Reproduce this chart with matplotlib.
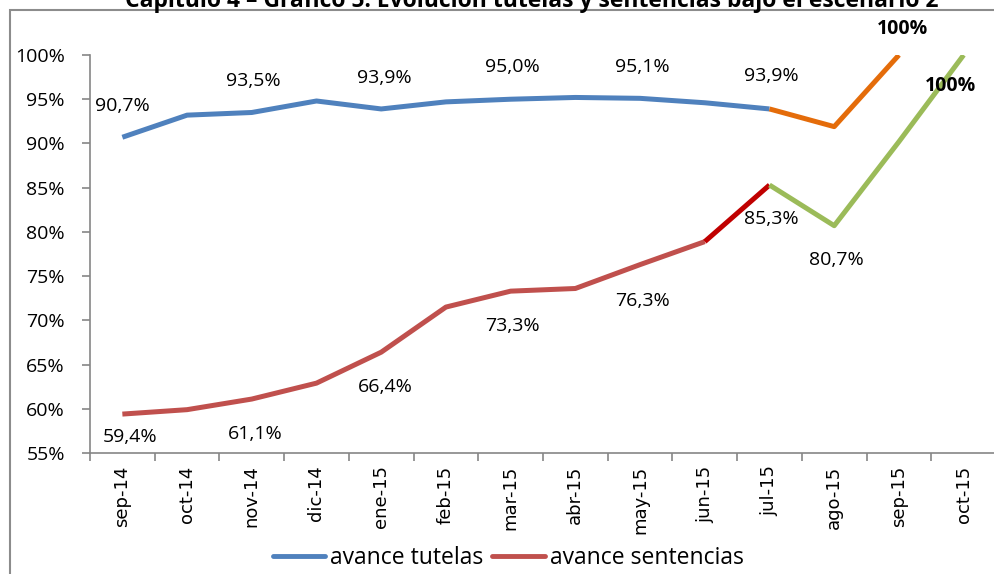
import matplotlib
matplotlib.use("Agg")
import matplotlib.pyplot as plt
from matplotlib.patches import Rectangle
from matplotlib.ticker import FixedLocator, FuncFormatter

# categories
meses = ['sep-14', 'oct-14', 'nov-14', 'dic-14', 'ene-15', 'feb-15', 'mar-15',
         'abr-15', 'may-15', 'jun-15', 'jul-15', 'ago-15', 'sep-15', 'oct-15']

# observed values (sep-14 .. jul-15)
tutelas = [90.7, 93.2, 93.5, 94.8, 93.9, 94.7, 95.0, 95.2, 95.1, 94.6, 93.9]
sentencias = [59.4, 59.9, 61.1, 62.9, 66.4, 71.5, 73.3, 73.6, 76.3, 78.9, 85.3]

# projections (jul-15 onwards)
tutelas_proy = [93.9, 91.9, 100.0]
sentencias_proy = [85.3, 80.7, 90.2, 100.0]

yticks = [55, 60, 65, 70, 75, 80, 85, 90, 95, 100]

c_blue = '#4F81BD'
c_red = '#C0504D'
c_dark = '#C00000'
c_orange = '#E46C0A'
c_green = '#9BBB59'
c_axis = '#868686'
lw = 3.6

fig = plt.figure(figsize=(9.95, 5.74), dpi=100)
ax = fig.add_axes([90 / 995, 121 / 574, 906 / 995, 398 / 574])

x_obs = list(range(len(tutelas)))
x_proy_t = list(range(len(tutelas) - 1, len(tutelas) - 1 + len(tutelas_proy)))
x_proy_s = list(range(len(sentencias) - 1, len(sentencias) - 1 + len(sentencias_proy)))

ax.plot(x_obs, tutelas, color=c_blue, lw=lw, solid_capstyle='butt', label='avance tutelas')
ax.plot(x_obs[:-1], sentencias[:-1], color=c_red, lw=lw, solid_capstyle='butt', label='avance sentencias')
ax.plot(x_obs[-2:], sentencias[-2:], color=c_dark, lw=lw, solid_capstyle='butt')
ax.plot(x_proy_t, tutelas_proy, color=c_orange, lw=lw, solid_capstyle='butt')
ax.plot(x_proy_s, sentencias_proy, color=c_green, lw=lw, solid_capstyle='butt')

# data labels: (x index, value, dx px, dy px)
lab_font = dict(family='Open Sans', fontsize=14)
etiquetas = [
    (0, tutelas[0], 0, 31),
    (2, tutelas[2], 2, 31),
    (4, tutelas[4], 3, 31),
    (6, tutelas[6], 2, 32),
    (8, tutelas[8], 2, 31),
    (10, tutelas[10], 2, 33),
    (0, sentencias[0], 8, -23),
    (2, sentencias[2], 3, -35),
    (4, sentencias[4], 4, -35),
    (6, sentencias[6], 2, -35),
    (8, sentencias[8], 2, -36),
    (10, sentencias[10], 2, -34),
    (11, sentencias_proy[1], 2, -34),
]
for xi, v, dx, dy in etiquetas:
    ax.annotate(f'{v:.1f}%'.replace('.', ','), (xi, v), xytext=(dx * 0.72, dy * 0.72),
                textcoords='offset points', ha='center', va='center', **lab_font)

ax.annotate('100%', (12, tutelas_proy[2]), xytext=(4 * 0.72, 26 * 0.72),
            textcoords='offset points', ha='center', va='center',
            family='Open Sans', fontsize=14, fontweight='bold', annotation_clip=False)
ax.annotate('100%', (13, sentencias_proy[3]), xytext=(-13 * 0.72, -31 * 0.72),
            textcoords='offset points', ha='center', va='center',
            family='Open Sans', fontsize=14, fontweight='bold', annotation_clip=False)

ax.set_xlim(-0.5, len(meses) - 0.5)
ax.set_ylim(55, 100)
ax.yaxis.set_major_locator(FixedLocator(yticks))
ax.yaxis.set_major_formatter(FuncFormatter(lambda v, p: f'{v:.0f}%'))

ax.set_xticks([i - 0.5 for i in range(len(meses) + 1)])
ax.set_xticklabels([])
ax.set_xticks(range(len(meses)), minor=True)
ax.set_xticklabels(meses, minor=True, rotation=90, family='DejaVu Sans', fontsize=13)
ax.tick_params(axis='x', which='major', length=6, color=c_axis, width=1.2)
ax.tick_params(axis='x', which='minor', length=0, pad=9)
ax.tick_params(axis='y', length=6, color=c_axis, width=1.2, pad=12)
for t in ax.get_yticklabels():
    t.set_family('Open Sans')
    t.set_fontsize(14)

for s in ['top', 'right']:
    ax.spines[s].set_visible(False)
for s in ['left', 'bottom']:
    ax.spines[s].set_color(c_axis)
    ax.spines[s].set_linewidth(1.2)

# outer chart frame (cut by the image edges)
fig.add_artist(Rectangle((10 / 995, -0.2), 1.2, 1.2 - 10 / 574, transform=fig.transFigure,
                         fill=False, edgecolor='#8c8c8c', lw=1.5))

# title sits above the visible area, as in the source image
fig.text(532 / 995, 1 - 7 / 574,
         'Capítulo 4 – Gráfico 5. Evolución tutelas y sentencias bajo el escenario 2',
         ha='center', va='baseline', family='Open Sans', fontweight='bold', fontsize=16.5)

leg = fig.legend(handles=ax.get_lines()[:2], loc='center', bbox_to_anchor=(508 / 995, 1 - 558 / 574),
                 ncol=2, frameon=False, prop={'family': 'Open Sans', 'size': 16.5},
                 handlelength=2.3, handletextpad=0.2, columnspacing=0.4)
for h in leg.get_lines():
    h.set_linewidth(3.5)
    h.set_solid_capstyle('round')

fig.savefig('out.png', dpi=100)
